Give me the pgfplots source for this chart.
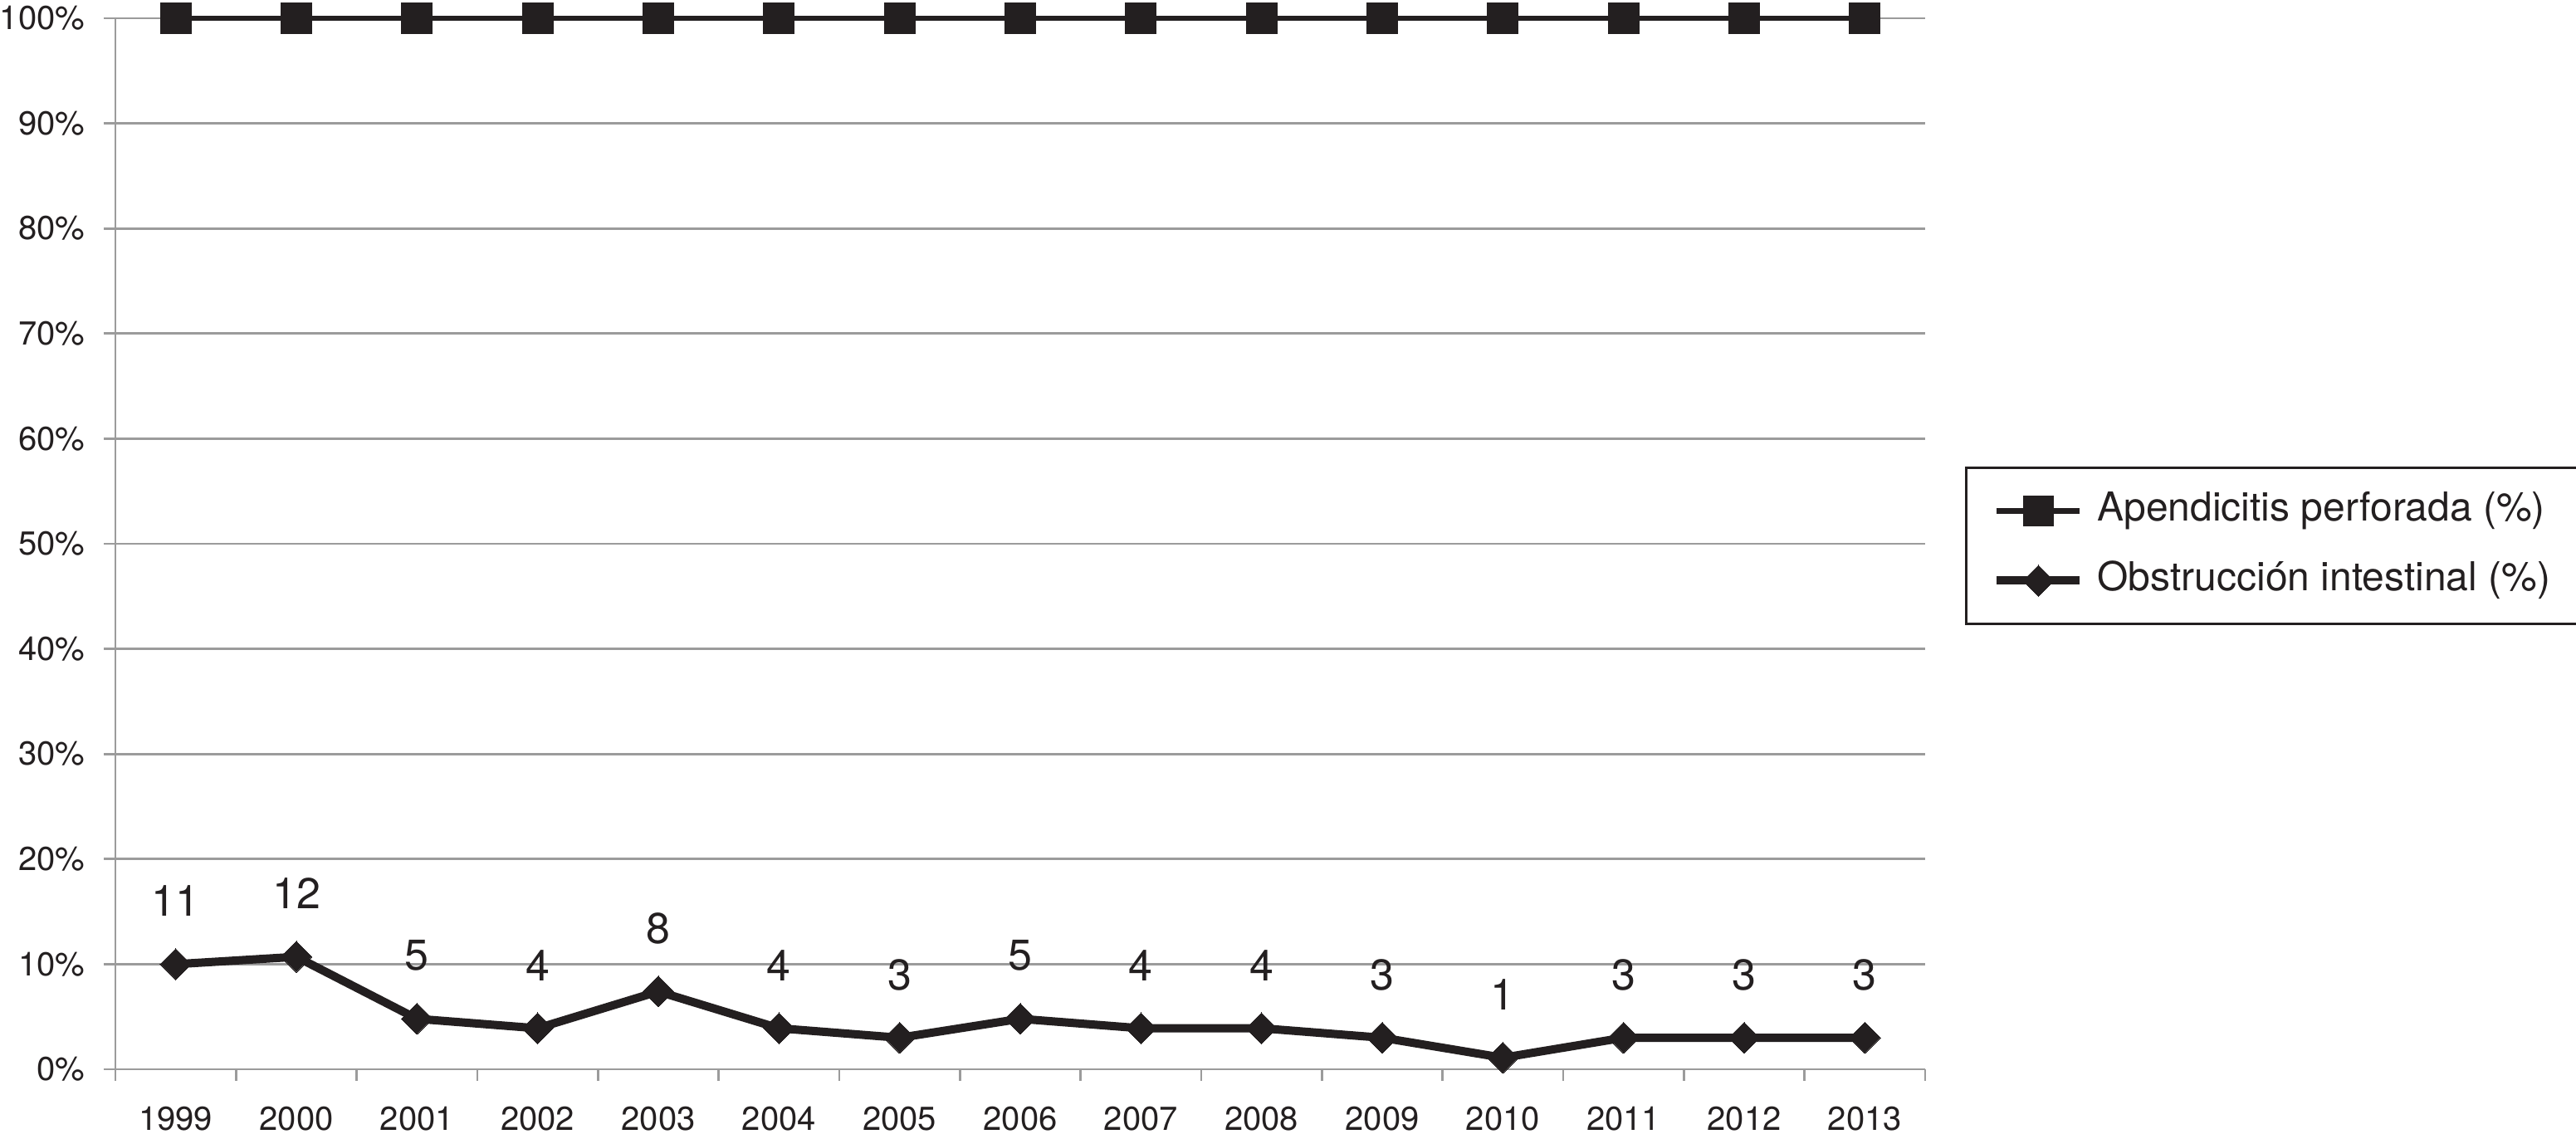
\documentclass[border=0pt]{standalone}
\usepackage{pgfplots}
\pgfplotsset{compat=1.18}
\usepackage{pgfplotstable}
\usepackage{fontspec}
\setmainfont{TeX Gyre Heros}
\definecolor{gridgray}{RGB}{155,155,155}
\definecolor{ink}{RGB}{35,31,32}
\pgfplotstableread{
x y lab
0 100 {}
1 100 {}
2 100 {}
3 100 {}
4 100 {}
5 100 {}
6 100 {}
7 100 {}
8 100 {}
9 100 {}
10 100 {}
11 100 {}
12 100 {}
13 100 {}
14 100 {}
}\apend
\pgfplotstableread{
x y lab
0 10.0 11
1 10.7 12
2 4.8 5
3 3.9 4
4 7.4 8
5 3.9 4
6 3.0 3
7 4.8 5
8 3.9 4
9 3.9 4
10 3.0 3
11 1.1 1
12 3.0 3
13 3.0 3
14 3.0 3
}\obst
\begin{document}
\begin{tikzpicture}
\useasboundingbox (-34.75pt,-20.75pt) rectangle (741pt,322pt);
\begin{axis}[
  at={(0pt,0pt)}, anchor=south west,
  scale only axis,
  width=545pt, height=316.5pt,
  xmin=-0.5, xmax=14.5,
  ymin=0, ymax=100,
  clip=false,
  axis x line*=bottom,
  axis y line*=left,
  axis line style={draw=gridgray, line width=0.7pt, -},
  tick align=outside,
  major tick length=3.5pt,
  minor tick length=3.5pt,
  xtick={0,...,14},
  xticklabels={1999,2000,2001,2002,2003,2004,2005,2006,2007,2008,2009,2010,2011,2012,2013},
  minor xtick={-0.5,0.5,...,14.5},
  major x tick style={draw=none},
  minor x tick style={draw=gridgray, line width=0.7pt},
  ytick={0,10,...,100},
  yticklabels={0\%,10\%,20\%,30\%,40\%,50\%,60\%,70\%,80\%,90\%,100\%},
  y tick style={draw=gridgray, line width=0.7pt},
  ymajorgrids,
  y grid style={draw=gridgray, line width=0.7pt},
  tick label style={font=\fontsize{10pt}{12pt}\selectfont, text=ink},
  yticklabel style={inner sep=0pt, xshift=-5.5pt},
  xticklabel style={inner sep=0pt, yshift=-7.5pt, anchor=north},
  legend style={
    at={(1.022,0.5735)}, anchor=north west,
    draw=ink, line width=0.75pt,
    inner xsep=8pt, inner ysep=7pt,
    font=\fontsize{12pt}{14pt}\selectfont,
    nodes={inner sep=0pt, text height=9pt, text depth=3pt, text=ink},
    row sep=9pt,
    /tikz/every odd column/.append style={column sep=4pt},
  },
  legend cell align=left,
  legend image code/.code={
    \draw[mark repeat=2, mark phase=2, #1] plot coordinates {(0pt,0pt) (12.5pt,0pt) (25pt,0pt)};
  },
]
\addplot[draw=ink, line width=1.6pt, mark=square*, mark size=4.6pt, mark options={fill=ink, draw=ink, line width=0pt, solid}]
  table[x=x, y=y] {\apend};
\addlegendentry{Apendicitis perforada (\%)}
\addplot[draw=ink, line width=2.5pt, mark=square*, mark size=3.3pt, mark options={fill=ink, draw=ink, line width=0pt, rotate=45, solid},
  nodes near coords, point meta=explicit symbolic,
  every node near coord/.append style={anchor=center, yshift=19pt, font=\fontsize{13pt}{15pt}\selectfont, text=ink, inner sep=0pt}]
  table[x=x, y=y, meta=lab] {\obst};
\addlegendentry{Obstrucción intestinal (\%)}
\end{axis}
\end{tikzpicture}
\end{document}
